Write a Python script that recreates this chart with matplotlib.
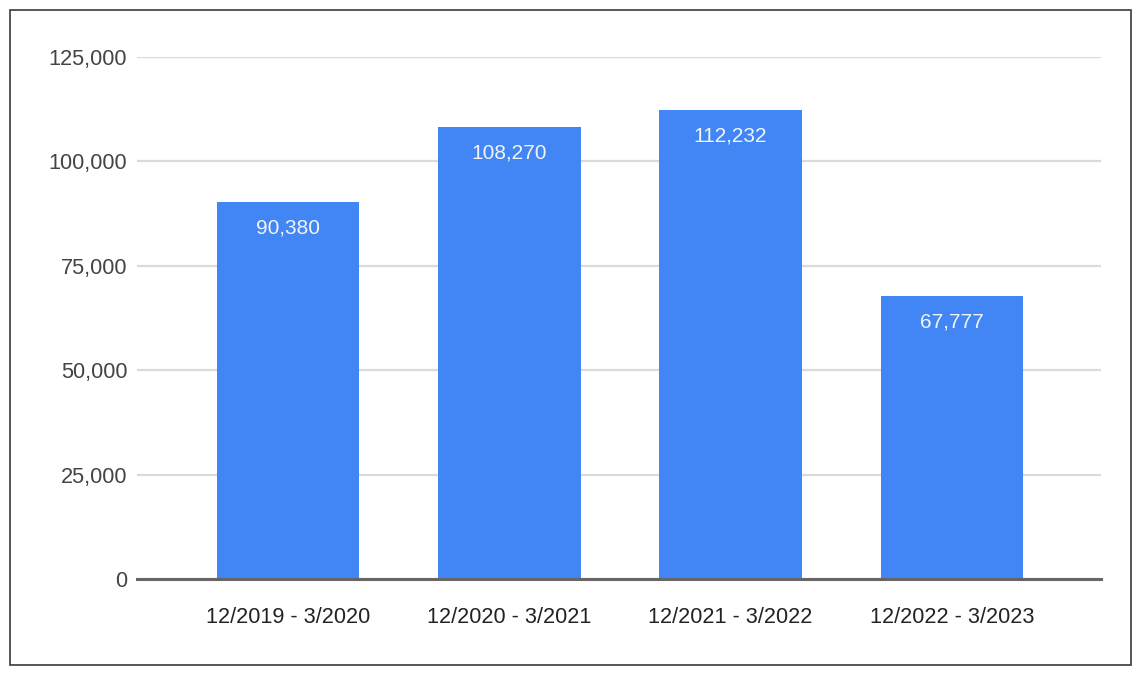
import matplotlib
matplotlib.use("Agg")
import matplotlib.pyplot as plt
from matplotlib.patches import Rectangle
from matplotlib.ticker import FuncFormatter

categories = ["12/2019 - 3/2020", "12/2020 - 3/2021", "12/2021 - 3/2022", "12/2022 - 3/2023"]
values = [90380, 108270, 112232, 67777]
yticks = [0, 25000, 50000, 75000, 100000, 125000]

plt.rcParams['font.family'] = ['Liberation Sans', 'DejaVu Sans']

W, H = 1138, 673
fig = plt.figure(figsize=(W / 100, H / 100), dpi=100)
fig.patch.set_facecolor('white')

# outer border
fig.patches.append(Rectangle((10 / W, 8 / H), 1121 / W, 655 / H, transform=fig.transFigure,
                             fill=False, edgecolor='#3a3a3a', linewidth=1.2))

ax = fig.add_axes([137 / W, (H - 579) / H, (1101 - 137) / W, (579 - 57) / H])
x = list(range(len(categories)))
bars = ax.bar(x, values, width=0.643, color='#4285F4', zorder=3)

ax.set_xlim(-0.683, 3.674)
ax.set_ylim(0, 125000)
ax.set_yticks(yticks)
ax.yaxis.set_major_formatter(FuncFormatter(lambda v, p: f"{int(v):,}"))
ax.set_xticks(x)
ax.set_xticklabels(categories)

ax.grid(axis='y', color='#dadada', linewidth=1.6, zorder=0)
ax.set_axisbelow(True)
for s in ['top', 'right', 'left']:
    ax.spines[s].set_visible(False)
ax.spines['bottom'].set_color('#666666')
ax.spines['bottom'].set_linewidth(2.2)
ax.spines['bottom'].set_zorder(4)

ax.tick_params(axis='y', length=0, pad=7, labelsize=15.7, labelcolor='#444444')
ax.tick_params(axis='x', length=0, pad=20, labelsize=15.6, labelcolor='#222222')

for xi, v in zip(x, values):
    ax.annotate(f"{v:,}", (xi, v), xytext=(0, -26), textcoords='offset pixels',
                ha='center', va='center', color='#f2f4f8', fontsize=15, zorder=5)

fig.savefig('out.png', dpi=100, facecolor='white')
